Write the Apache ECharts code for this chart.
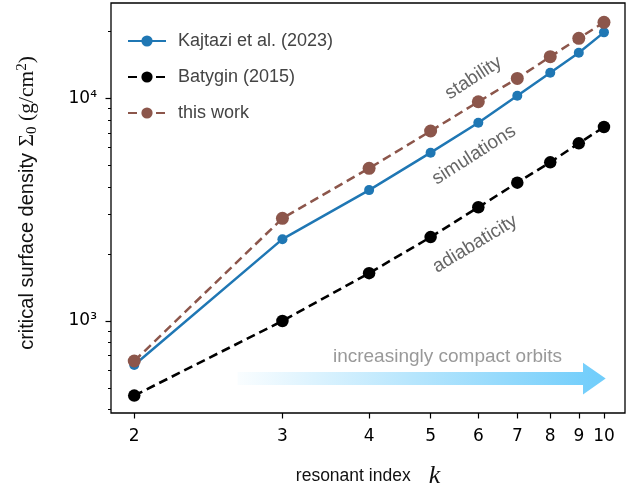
<!DOCTYPE html>
<html>
<head>
<meta charset="utf-8">
<script src="https://cdn.jsdelivr.net/npm/echarts@6/dist/echarts.min.js"></script>
<style>
  html, body { margin: 0; padding: 0; background: #fff; }
  #chart { width: 635px; height: 487px; }
</style>
</head>
<body>
<div id="chart"></div>
<script>
// Resonant index k and critical surface density Sigma_0 (g/cm^2)
const resonantIndex = [2, 3, 4, 5, 6, 7, 8, 9, 10];
const kajtazi2023 = [634, 2330, 3870, 5700, 7770, 10270, 13030, 16030, 19780];
const batygin2015 = [462, 1000, 1640, 2380, 3240, 4180, 5160, 6280, 7430];
const thisWork    = [661, 2890, 4850, 7130, 9650, 12290, 15380, 18600, 21940];

// Tick marks
const xTickLabels = ['2', '3', '4', '5', '6', '7', '8', '9', '10'];
const yMajorTicks = [1000, 10000];
const yMajorLabels = ['10³', '10⁴'];
const yMinorTicks = [400, 500, 600, 700, 800, 900,
                     2000, 3000, 4000, 5000, 6000, 7000, 8000, 9000, 20000];

// The horizontal axis is logarithmic in (k - 1)
const toPoints = vals => resonantIndex.map((k, i) => [k - 1, vals[i]]);
const xTickValues = resonantIndex.map(k => k - 1);

const SANS = 'Liberation Sans';
const TICK_FONT = 'DejaVu Sans';
const SERIF = 'Liberation Serif';

const chart = echarts.init(document.getElementById('chart'), null, { renderer: 'canvas' });

const dash = [9, 5];

const option = {
  animation: false,
  backgroundColor: '#fff',
  grid: {
    left: 111, right: 10, top: 3, bottom: 74,
    outerBoundsMode: 'none',
    containLabel: false,
    show: true, borderColor: '#000', borderWidth: 1.3, backgroundColor: 'transparent'
  },
  legend: {
    orient: 'vertical',
    left: 122, top: 26,
    itemWidth: 38, itemHeight: 14, itemGap: 16,
    textStyle: { fontFamily: SANS, fontSize: 18, color: '#444', lineHeight: 20, padding: [0, 0, 0, 7] },
    data: ['Kajtazi et al. (2023)', 'Batygin (2015)', 'this work']
  },
  xAxis: {
    type: 'log',
    logBase: 10,
    min: 0.897, max: 9.93,
    name: '{t|resonant index}{k|k}',
    nameLocation: 'middle',
    nameGap: 50,
    nameTextStyle: {
      rich: {
        t: { fontFamily: SANS, fontSize: 17.5, color: '#111', lineHeight: 26 },
        k: { fontFamily: SERIF, fontStyle: 'italic', fontSize: 26, color: '#111', lineHeight: 26, padding: [0, 0, 0, 18] }
      }
    },
    axisLine: { show: false },
    splitLine: { show: false },
    axisTick: { show: true, length: 5.5, customValues: xTickValues, lineStyle: { color: '#000', width: 1.2 } },
    axisLabel: {
      customValues: xTickValues,
      margin: 15,
      fontFamily: TICK_FONT, fontSize: 17, color: '#000',
      formatter: v => xTickLabels[resonantIndex.indexOf(Math.round(v) + 1)]
    }
  },
  yAxis: [
    {
      type: 'log',
      logBase: 10,
      position: 'left',
      min: 386, max: 26800,
      name: '{t|critical surface density}  {m|Σ}{sub|0}{m| (g/cm}{sup|2}{m|)}',
      nameLocation: 'middle',
      nameRotate: 90,
      nameGap: 71,
      nameTextStyle: {
        padding: [0, 0, 0, 10],
        rich: {
          t: { fontFamily: SANS, fontSize: 20, color: '#111', lineHeight: 25 },
          m: { fontFamily: SERIF, fontSize: 21.5, color: '#111', lineHeight: 25 },
          sub: { fontFamily: SERIF, fontSize: 15, color: '#111', verticalAlign: 'bottom', lineHeight: 15 },
          sup: { fontFamily: SERIF, fontSize: 15, color: '#111', verticalAlign: 'top', lineHeight: 15 }
        }
      },
      axisLine: { show: false },
      splitLine: { show: false },
      axisTick: { show: true, length: 5.5, customValues: yMajorTicks, lineStyle: { color: '#000', width: 1.2 } },
      axisLabel: {
        customValues: yMajorTicks,
        margin: 14,
        fontFamily: TICK_FONT, fontSize: 17, color: '#000',
        formatter: v => yMajorLabels[yMajorTicks.indexOf(Math.round(v))]
      }
    },
    {
      // minor ticks only, on the same left edge
      type: 'log',
      logBase: 10,
      position: 'left',
      offset: 0,
      min: 386, max: 26800,
      axisLine: { show: false },
      splitLine: { show: false },
      axisLabel: { show: false, customValues: yMinorTicks },
      axisTick: { show: true, length: 3, customValues: yMinorTicks, lineStyle: { color: '#000', width: 1 } }
    }
  ],
  series: [
    {
      name: 'Kajtazi et al. (2023)',
      type: 'line',
      data: toPoints(kajtazi2023),
      symbol: 'circle', symbolSize: 10,
      lineStyle: { color: '#1f77b4', width: 2.5 },
      itemStyle: { color: '#1f77b4' },
      z: 3
    },
    {
      name: 'Batygin (2015)',
      type: 'line',
      data: toPoints(batygin2015),
      symbol: 'circle', symbolSize: 12.5,
      lineStyle: { color: '#000', width: 2.6, type: dash },
      itemStyle: { color: '#000' },
      z: 2
    },
    {
      name: 'this work',
      type: 'line',
      data: toPoints(thisWork),
      symbol: 'circle', symbolSize: 13,
      lineStyle: { color: '#8c564b', width: 2.5, type: dash },
      itemStyle: { color: '#8c564b' },
      z: 4
    }
  ]
};

chart.setOption(option);

// Annotations: rotated curve labels and the "compact orbits" arrow
const deg = Math.PI / 180;
const noteStyle = { fontFamily: SANS, fontSize: 19, fill: '#666', align: 'center', verticalAlign: 'middle' };

chart.setOption({
  graphic: [
    { type: 'text', x: 473.5, y: 78, rotation: 33 * deg, style: Object.assign({ text: 'stability' }, noteStyle) },
    { type: 'text', x: 474, y: 155, rotation: 32.5 * deg, style: Object.assign({ text: 'simulations' }, noteStyle) },
    { type: 'text', x: 475, y: 244, rotation: 31 * deg, style: Object.assign({ text: 'adiabaticity' }, noteStyle) },
    {
      type: 'polygon',
      shape: {
        points: [[237.7, 372], [583, 372], [583, 362.7], [605.7, 378.5], [583, 394.5], [583, 385], [237.7, 385]]
      },
      style: {
        fill: new echarts.graphic.LinearGradient(0, 0, 1, 0, [
          { offset: 0, color: 'rgba(112, 205, 251, 0.04)' },
          { offset: 0.93, color: 'rgba(112, 205, 251, 0.95)' },
          { offset: 1, color: 'rgba(112, 205, 251, 1)' }
        ])
      },
      z: 1
    },
    {
      type: 'text', x: 447.5, y: 357,
      style: { text: 'increasingly compact orbits', fontFamily: SANS, fontSize: 19, fill: '#999', align: 'center', verticalAlign: 'middle' }
    }
  ]
});
</script>
</body>
</html>
